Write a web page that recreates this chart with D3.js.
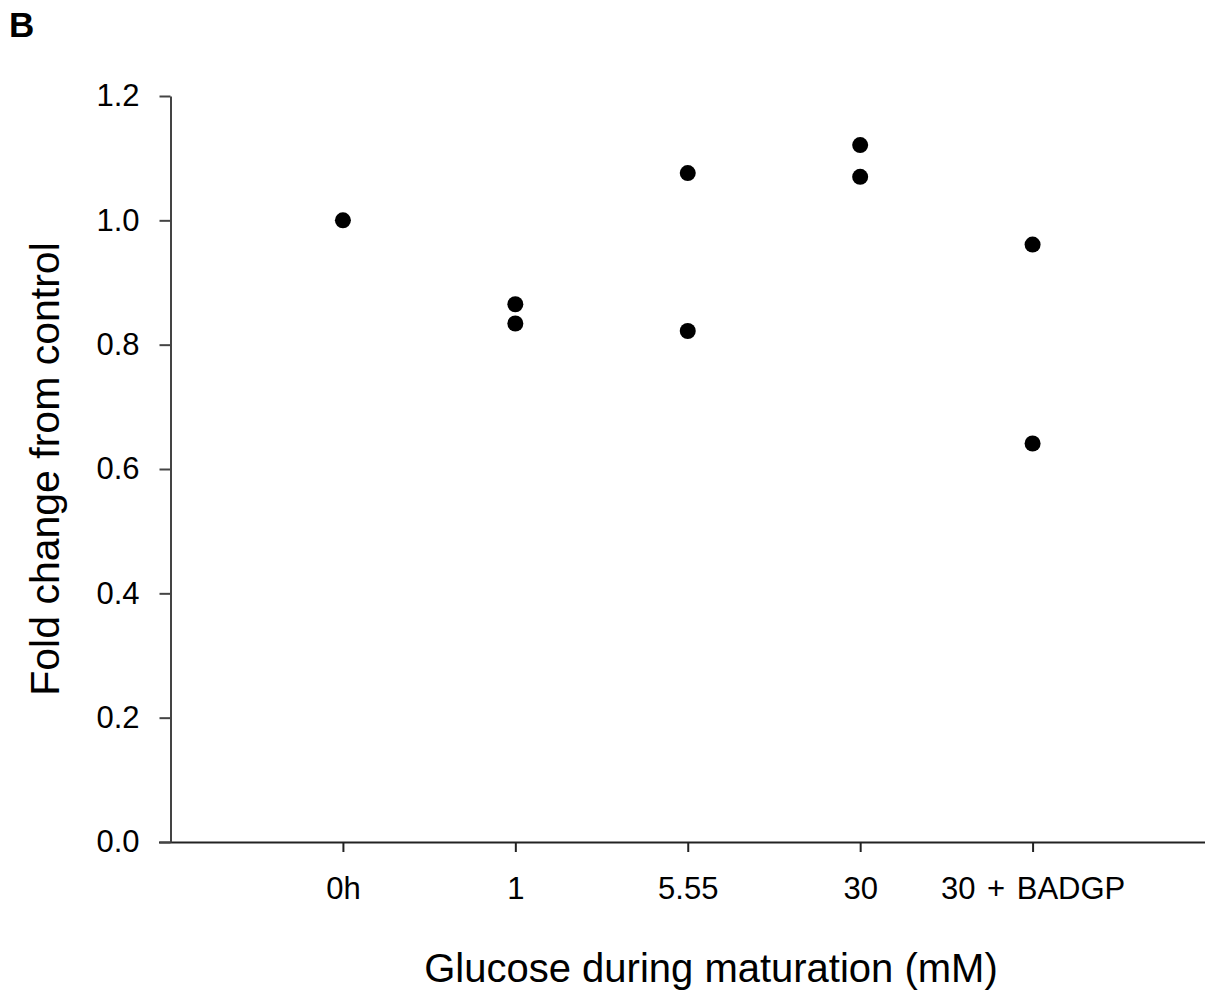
<!DOCTYPE html>
<html><head><meta charset="utf-8">
<script src="https://d3js.org/d3.v7.min.js"></script>
<style>body{margin:0;background:#fff}</style>
</head><body>
<script>
const categories = ["0h", "1", "5.55", "30", "30 + BADGP"];
const pointCategory = [0, 1, 1, 2, 2, 3, 3, 4, 4];
const pointValues = [1.0, 0.865, 0.834, 1.076, 0.822, 1.121, 1.070, 0.961, 0.641];
const yTicks = [0.0, 0.2, 0.4, 0.6, 0.8, 1.0, 1.2];

const W = 1211, H = 993;
const svg = d3.select("body").append("svg").attr("width", W).attr("height", H)
  .style("font-family", "'Liberation Sans', Arial, sans-serif");

const x = d3.scaleLinear().domain([-1, 5]).range([170.5, 1205]);
const y = d3.scaleLinear().domain([0, 1.2]).range([842, 96]);

const xAxis = d3.axisBottom(x).tickValues(d3.range(categories.length))
  .tickFormat(i => categories[i]).tickSize(10).tickSizeOuter(0).tickPadding(25);
const gx = svg.append("g").attr("transform", "translate(0,842)").call(xAxis);
gx.select(".domain").attr("d", `M159,0.5H${x(5)}`).attr("stroke", "#222").attr("stroke-width", 2);
gx.selectAll(".tick line").attr("stroke", "#222").attr("stroke-width", 2);
gx.selectAll(".tick text").attr("font-size", 31).attr("fill", "#000")
  .attr("word-spacing", 3)
  .attr("font-family", "'Liberation Sans', Arial, sans-serif");

const yAxis = d3.axisLeft(y).tickValues(yTicks).tickFormat(d3.format(".1f"))
  .tickSize(11).tickSizeOuter(0).tickPadding(20);
const gy = svg.append("g").attr("transform", "translate(170.5,0)").call(yAxis);
gy.select(".domain").attr("stroke", "#444").attr("stroke-width", 2);
gy.selectAll(".tick line").attr("stroke", "#444").attr("stroke-width", 2);
gy.selectAll(".tick text").attr("font-size", 31).attr("fill", "#000")
  .attr("font-family", "'Liberation Sans', Arial, sans-serif");

svg.append("g").selectAll("circle").data(pointValues).join("circle")
  .attr("cx", (d, i) => x(pointCategory[i]))
  .attr("cy", d => y(d))
  .attr("r", 8).attr("fill", "#000");

svg.append("text").attr("x", 711).attr("y", 982).attr("text-anchor", "middle")
  .attr("font-size", 40).text("Glucose during maturation (mM)");

svg.append("text").attr("transform", "translate(59,469) rotate(-90)")
  .attr("text-anchor", "middle").attr("font-size", 41).text("Fold change from control");

svg.append("text").attr("x", 9).attr("y", 37).attr("font-size", 35)
  .attr("font-weight", "bold").attr("font-family", "'Liberation Sans', Arial, sans-serif").text("B");
</script>
</body></html>
